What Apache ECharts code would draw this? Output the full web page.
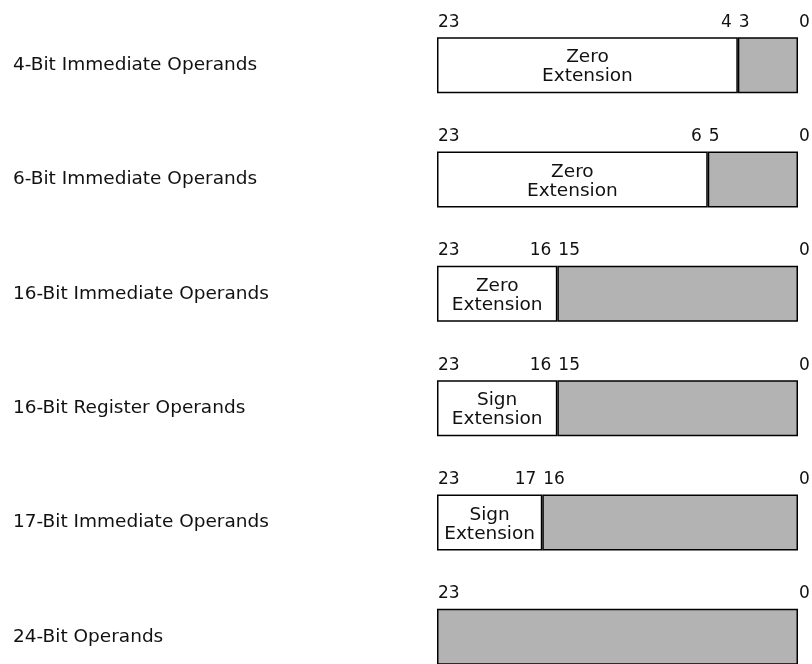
<!DOCTYPE html>
<html>
<head>
<meta charset="utf-8">
<script src="https://cdn.jsdelivr.net/npm/echarts@6/dist/echarts.min.js"></script>
<style>
  html, body { margin: 0; padding: 0; background: #fff; }
  #chart { width: 812px; height: 664px; }
</style>
</head>
<body>
<div id="chart"></div>
<script>
// operand formats, top to bottom
const rowNames = [
  '4-Bit Immediate Operands',
  '6-Bit Immediate Operands',
  '16-Bit Immediate Operands',
  '16-Bit Register Operands',
  '17-Bit Immediate Operands',
  '24-Bit Operands'
]
// width of the operand field (grey, low bits)
const operandBits = [4, 6, 16, 16, 17, 24]
// text inside the extension field (high bits)
const extensionText = ['Zero\nExtension', 'Zero\nExtension', 'Zero\nExtension', 'Sign\nExtension', 'Sign\nExtension', '']
const wordBits = 24

const extensionBits = operandBits.map(n => (wordBits - n) || null)

// bit numbers above each box
const bitLabels = []
operandBits.forEach((n, i) => {
  bitLabels.push({ value: [wordBits, i], name: String(wordBits - 1), side: 'left' })
  if (n < wordBits) {
    bitLabels.push({ value: [n, i], name: String(n), side: 'right' })
    bitLabels.push({ value: [n, i], name: String(n - 1), side: 'left' })
  }
  bitLabels.push({ value: [0, i], name: '0', side: 'left' })
})

const font = 'DejaVu Sans'
const chart = echarts.init(document.getElementById('chart'))
chart.setOption({
  animation: false,
  backgroundColor: '#fff',
  grid: { left: 437, width: 361, top: 8, height: 686, outerBoundsMode: 'none', containLabel: false },
  xAxis: {
    type: 'value',
    min: 0,
    max: wordBits,
    inverse: true,
    show: false
  },
  yAxis: {
    type: 'category',
    inverse: true,
    data: rowNames,
    axisLine: { show: false },
    axisTick: { show: false },
    axisLabel: {
      margin: 424,
      align: 'left',
      padding: [5, 0, 0, 0],
      color: '#111',
      fontFamily: font,
      fontSize: 18.5
    }
  },
  series: [
    {
      name: 'operand',
      type: 'bar',
      stack: 'bits',
      barWidth: 56,
      data: operandBits,
      itemStyle: { color: '#b3b3b3', borderColor: '#000', borderWidth: 1.5 }
    },
    {
      name: 'extension',
      type: 'bar',
      stack: 'bits',
      barWidth: 56,
      data: extensionBits,
      itemStyle: { color: '#fff', borderColor: '#000', borderWidth: 1.5 },
      label: {
        show: true,
        position: 'inside',
        offset: [0, 2],
        formatter: p => extensionText[p.dataIndex],
        color: '#111',
        fontFamily: font,
        fontSize: 18.5,
        lineHeight: 19
      }
    },
    {
      name: 'bits',
      type: 'scatter',
      symbolSize: 0,
      silent: true,
      itemStyle: { opacity: 1 },
      data: bitLabels.map(d => ({
        value: d.value,
        name: d.name,
        label: {
          show: true,
          formatter: d.name,
          position: 'inside',
          align: d.side === 'left' ? 'left' : 'right',
          offset: d.side === 'left' ? [1, -43] : [-6, -43],
          color: '#111',
          fontFamily: font,
          fontSize: 17
        }
      }))
    }
  ]
})
</script>
</body>
</html>
